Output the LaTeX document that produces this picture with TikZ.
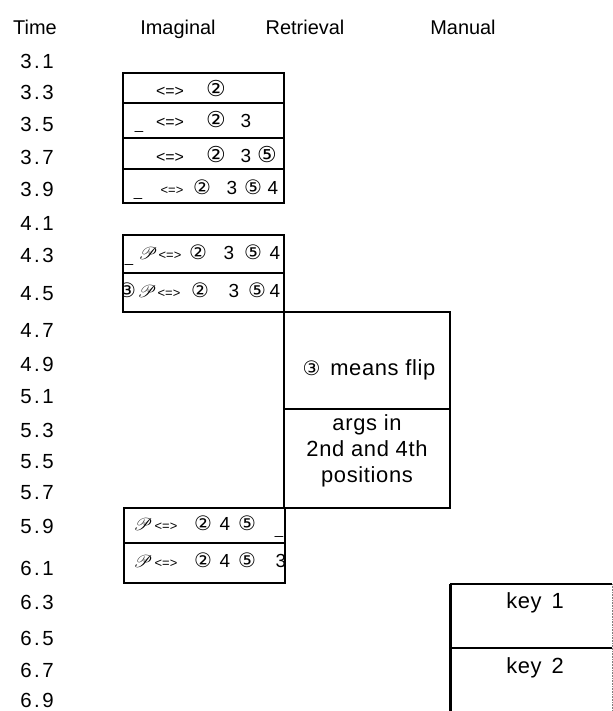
\documentclass[tikz,border=0pt]{standalone}
\usepackage{fontspec}
\usepackage{mathrsfs}
\setmainfont{Liberation Sans}
\newfontfamily\djf{DejaVu Sans}
\usetikzlibrary{fit}
\begin{document}
\begin{tikzpicture}[x=1bp,y=-1bp,
  cell/.style={draw, line width=1.6pt, inner sep=0pt, outer sep=0pt},
  blank/.style={inner sep=0pt, outer sep=0pt},
  edge/.style={line width=1.6pt},
  thick edge/.style={line width=3pt},
  head/.style={font=\fontsize{20}{24}\selectfont, inner sep=0pt, anchor=base},
  tlab/.style={font=\fontsize{20.5}{24}\selectfont, inner sep=0pt},
  tok/.style={anchor=base, inner sep=0pt, outer sep=0pt},
  cd/.style={tok, font=\djf\fontsize{22}{22}\selectfont},
  cds/.style={tok, font=\djf\fontsize{20}{20}\selectfont},
  dg/.style={tok, font=\fontsize{19}{19}\selectfont},
  eqb/.style={tok, font=\fontsize{16}{16}\selectfont},
  eqs/.style={tok, font=\fontsize{13}{13}\selectfont},
  scp/.style={tok, font=\fontsize{19}{19}\selectfont},
  us/.style={tok, font=\fontsize{15}{15}\selectfont},
  big/.style={font=\fontsize{22}{26}\selectfont\addfontfeatures{LetterSpace=3}, inner sep=0pt, align=center}
]
\useasboundingbox[fill=white] (0,0) rectangle (613,711);

% headers
\node[head] (hT) at (35,35) {Time};
\node[head] (hI) at (178,35) {Imaginal};
\node[head] (hR) at (305,35) {Retrieval};
\node[head] (hM) at (463,35) {Manual};

% time labels
\foreach \a/\b/\y [count=\i] in {3/1/61,3/3/92,3/5/124,3/7/157,3/9/189,4/1/223,4/3/255,4/5/294,4/7/330,4/9/364,5/1/397,5/3/430,5/5/462,5/7/493,5/9/526,6/1/568,6/3/602,6/5/638,6/7/670,6/9/700}
  {\node[tlab] (t\i) at (37,\y) {\a\kern2.5pt.\kern2.5pt\b};}

% Imaginal cells, group 1
\node[cell, fit={(123,73) (284,103)}] (i1) {};
\node[cell, fit={(123,103) (284,138)}] (i2) {};
\node[cell, fit={(123,138) (284,169)}] (i3) {};
\node[cell, fit={(123,169) (284,203)}] (i4) {};
\draw[thick edge] (i1.north west) -- (i4.south west);
% group 2
\node[cell, fit={(123,235) (284,273)}] (i5) {};
\node[cell, fit={(123,273) (284,312)}] (i6) {};
\draw[thick edge] (i5.north west) -- (i6.south west);
% Retrieval
\node[cell, fit={(284,312) (450,409)}] (r1) {};
\node[cell, fit={(284,409) (450,508)}] (r2) {};
% group 3
\node[cell, fit={(124,508) (285,543)}] (i7) {};
\node[cell, fit={(124,543) (285,583)}] (i8) {};
\draw[thick edge] (i7.north west) -- (i8.south west);
% Manual
\node[blank, fit={(450,584) (612,648)}] (m1) {};
\node[blank, fit={(450,648) (612,716)}] (m2) {};
\draw[edge] (m1.north east) -- (m1.north west);
\draw[thick edge] (m1.north west) -- (m2.south west);
\draw[line width=2pt] (m1.south west) -- (m1.south east);
\draw[densely dotted, gray, line width=0.6pt] (m1.north east) -- (m2.south east);

% row 1
\node[eqb] (a1) at (170,97) {<=>};
\node[cd] (a2) at (216,97) {②};
% row 2
\node[us] (b0) at (139,130) {\_};
\node[eqb] (b1) at (170,128) {<=>};
\node[cd] (b2) at (216,128) {②};
\node[dg] (b3) at (246,128) {3};
% row 3
\node[eqb] (c1) at (170,162) {<=>};
\node[cd] (c2) at (216,162) {②};
\node[dg] (c3) at (246,162) {3};
\node[cd] (c4) at (267,162) {⑤};
% row 4
\node[us] (d0) at (138,196) {\_};
\node[eqs] (d1) at (172,194) {<=>};
\node[cds] (d2) at (202,194) {②};
\node[dg] (d3) at (232,194) {3};
\node[cds] (d4) at (253,194) {⑤};
\node[dg] (d5) at (273,194) {4};
% row 5
\node[us] (e0) at (129,262) {\_};
\node[scp] (e1) at (148,259) {$\mathscr{P}$};
\node[eqs] (e2) at (170,259) {<=>};
\node[cds] (e3) at (198,259) {②};
\node[dg] (e4) at (229,259) {3};
\node[cds] (e5) at (253,259) {⑤};
\node[dg] (e6) at (275,259) {4};
% row 6
\begin{scope}
\clip (124,273) rectangle (284,312);
\node[cds] (f0) at (127,297) {③};
\end{scope}
\node[scp] (f1) at (147,297) {$\mathscr{P}$};
\node[eqs] (f2) at (169,297) {<=>};
\node[cds] (f3) at (200,297) {②};
\node[dg] (f4) at (234,297) {3};
\node[cds] (f5) at (257,297) {⑤};
\node[dg] (f6) at (275,297) {4};
% row 7
\node[scp] (g1) at (143,530) {$\mathscr{P}$};
\node[eqs] (g2) at (166,530) {<=>};
\node[cds] (g3) at (203,530) {②};
\node[dg] (g4) at (225,530) {4};
\node[cds] (g5) at (247,530) {⑤};
\node[us] (g6) at (279,534) {\_};
% row 8
\node[scp] (h1) at (143,567) {$\mathscr{P}$};
\node[eqs] (h2) at (166,567) {<=>};
\node[cds] (h3) at (203,567) {②};
\node[dg] (h4) at (225,567) {4};
\node[cds] (h5) at (247,567) {⑤};
\node[dg] (h6) at (281,567) {3};

% Retrieval texts
\node[big] (flip) at (369,370) {{\djf\fontsize{20}{20}\selectfont ③}\hspace{0.45em}means flip};
\node[big] (args) at (367,451) {args in\\2nd and 4th\\positions};

% Manual texts
\node[big] (k1) at (535,603) {key\hspace{0.45em}1};
\node[big] (k2) at (535,668) {key\hspace{0.45em}2};
\end{tikzpicture}
\end{document}
